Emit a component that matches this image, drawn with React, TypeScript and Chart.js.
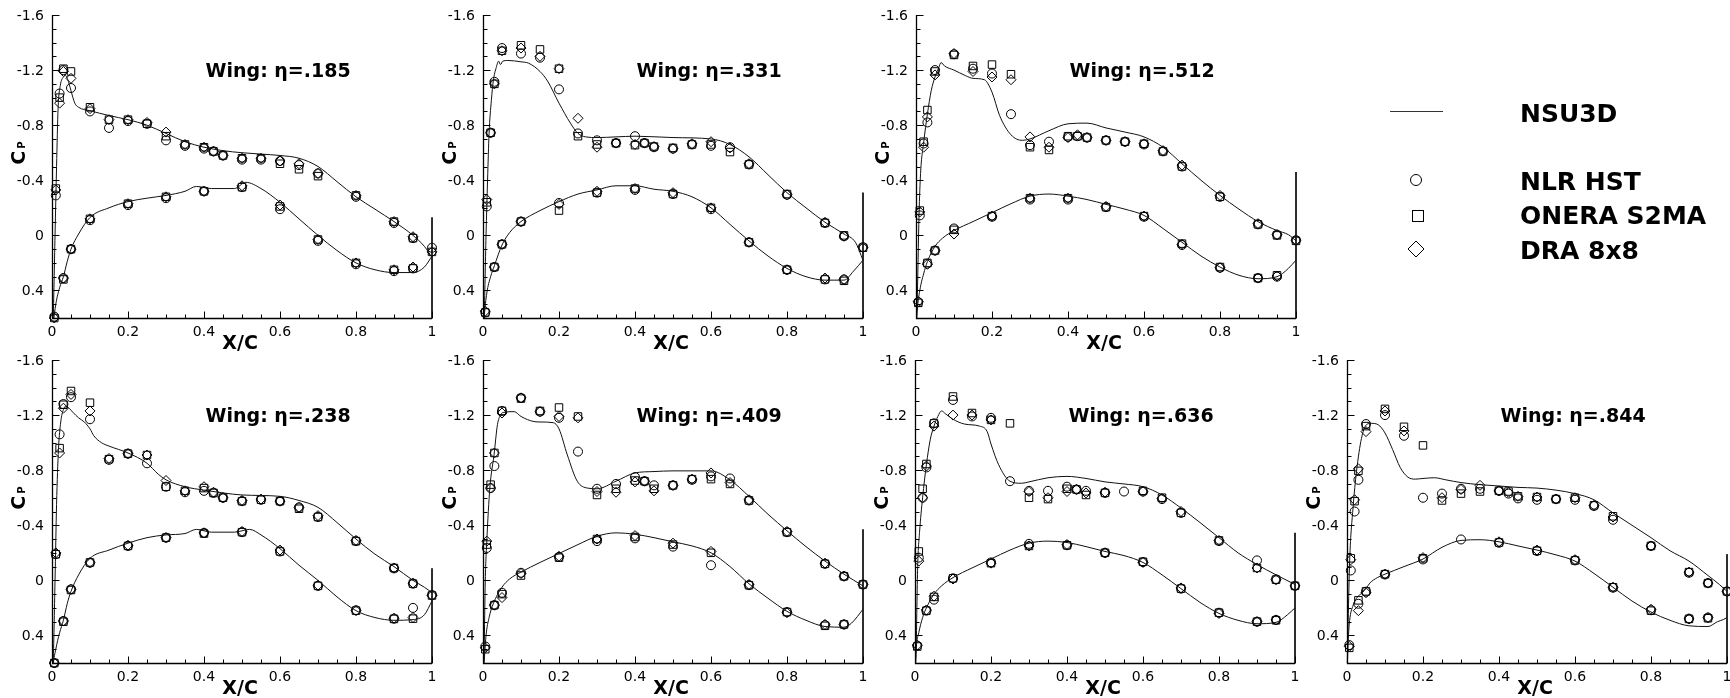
import React, { useEffect, useRef } from 'react';
import { Chart, registerables } from 'chart.js';

Chart.register(...registerables);

// ---------- axis / label text ----------
const yTickValues = [-1.6, -1.2, -0.8, -0.4, 0, 0.4];
const yTickLabels = ['-1.6', '-1.2', '-0.8', '-0.4', '0', '0.4'];
const xTickValues = [0, 0.2, 0.4, 0.6, 0.8, 1];
const xTickLabels = ['0', '0.2', '0.4', '0.6', '0.8', '1'];
const etaLabels = ['.185', '.331', '.512', '.238', '.409', '.636', '.844'];
const legendLabels = ['NSU3D', 'NLR HST', 'ONERA S2MA', 'DRA 8x8'];

// ---------- experimental stations (x/c) ----------
const XU = [0.01, 0.02, 0.03, 0.05, 0.1, 0.15, 0.2, 0.25, 0.3, 0.35, 0.4, 0.425, 0.45, 0.5, 0.55, 0.6, 0.65, 0.7, 0.8, 0.9, 0.95, 1.0];
const XL = [0.006, 0.03, 0.05, 0.1, 0.2, 0.3, 0.4, 0.5, 0.6, 0.7, 0.8, 0.9, 0.95];

type P = [number, number];
type N = number | null;

// ---------- eta = .185 ----------
const nsuUpper185: P[] = [[0, 0.75], [0.003, 0.62], [0.008, 0.0], [0.012, -0.5], [0.016, -0.92], [0.022, -1.09], [0.03, -1.15], [0.036, -1.16], [0.045, -1.1], [0.05, -1.05], [0.06, -0.96], [0.07, -0.93], [0.1, -0.905], [0.15, -0.87], [0.2, -0.84], [0.25, -0.8], [0.3, -0.74], [0.35, -0.68], [0.4, -0.64], [0.45, -0.615], [0.5, -0.6], [0.55, -0.59], [0.6, -0.58], [0.65, -0.56], [0.7, -0.5], [0.75, -0.39], [0.8, -0.28], [0.85, -0.19], [0.9, -0.1], [0.95, 0.0], [0.98, 0.08], [1.0, 0.16]];
const nsuLower185: P[] = [[0, 0.75], [0.003, 0.65], [0.01, 0.5], [0.02, 0.38], [0.03, 0.3], [0.04, 0.19], [0.05, 0.1], [0.07, -0.01], [0.1, -0.13], [0.15, -0.2], [0.2, -0.245], [0.25, -0.27], [0.3, -0.29], [0.35, -0.32], [0.38, -0.355], [0.42, -0.34], [0.48, -0.34], [0.51, -0.385], [0.55, -0.34], [0.6, -0.24], [0.65, -0.12], [0.7, 0.0], [0.75, 0.11], [0.8, 0.2], [0.85, 0.25], [0.9, 0.27], [0.95, 0.27], [0.98, 0.23], [1.0, 0.15]];
const nsuTE185: P[] = [[1, -0.13], [1, 0.7]];
const nlrUpper185: N[] = [-0.29, -1.03, -1.2, -1.07, -0.9, -0.78, -0.83, -0.81, -0.69, -0.65, -0.63, -0.61, -0.58, -0.55, -0.55, -0.54, -0.51, -0.45, -0.28, -0.09, 0.02, 0.09];
const oneraUpper185: N[] = [-0.34, -1.0, -1.21, -1.19, -0.93, -0.84, -0.84, -0.81, -0.72, -0.66, -0.64, -0.61, -0.58, -0.56, -0.56, -0.52, -0.48, -0.43, -0.29, -0.1, 0.02, 0.12];
const draUpper185: N[] = [-0.33, -0.96, -1.19, -1.14, -0.92, -0.84, -0.84, -0.82, -0.75, -0.66, -0.64, -0.61, -0.58, -0.56, -0.56, -0.54, -0.52, -0.45, -0.29, -0.1, 0.01, 0.12];
const nlrLower185: N[] = [0.59, 0.31, 0.1, -0.11, -0.22, -0.27, -0.32, -0.35, -0.19, 0.04, 0.21, 0.26, 0.24];
const oneraLower185: N[] = [0.6, 0.32, 0.1, -0.12, -0.23, -0.28, -0.32, -0.35, -0.21, 0.03, 0.2, 0.25, 0.24];
const draLower185: N[] = [0.6, 0.31, 0.1, -0.12, -0.23, -0.28, -0.32, -0.36, -0.22, 0.03, 0.2, 0.25, 0.23];

// ---------- eta = .331 ----------
const nsuUpper331: P[] = [[0, 0.75], [0.003, 0.6], [0.008, 0.0], [0.012, -0.4], [0.016, -0.74], [0.022, -0.98], [0.027, -1.12], [0.035, -1.22], [0.041, -1.265], [0.046, -1.24], [0.052, -1.265], [0.065, -1.27], [0.1, -1.26], [0.12, -1.25], [0.15, -1.19], [0.17, -1.12], [0.2, -0.96], [0.23, -0.815], [0.25, -0.74], [0.27, -0.715], [0.3, -0.71], [0.35, -0.715], [0.4, -0.72], [0.5, -0.71], [0.6, -0.7], [0.65, -0.66], [0.7, -0.57], [0.75, -0.44], [0.8, -0.31], [0.85, -0.2], [0.9, -0.095], [0.95, -0.01], [0.98, 0.05], [1.0, 0.18]];
const nsuLower331: P[] = [[0, 0.75], [0.003, 0.6], [0.01, 0.42], [0.02, 0.3], [0.03, 0.22], [0.05, 0.07], [0.07, -0.02], [0.1, -0.1], [0.15, -0.18], [0.2, -0.245], [0.25, -0.3], [0.3, -0.33], [0.35, -0.36], [0.4, -0.36], [0.45, -0.335], [0.5, -0.32], [0.55, -0.28], [0.6, -0.2], [0.65, -0.08], [0.7, 0.04], [0.75, 0.15], [0.8, 0.24], [0.85, 0.3], [0.9, 0.325], [0.95, 0.325], [0.975, 0.26], [1.0, 0.18]];
const nsuTE331: P[] = [[1, -0.31], [1, 0.7]];
const nlrUpper331: N[] = [-0.21, -0.745, -1.115, -1.36, -1.32, -1.29, -1.06, -0.74, -0.69, -0.67, -0.72, -0.67, -0.64, -0.63, -0.66, -0.65, -0.64, -0.515, -0.295, -0.09, 0.007, 0.085];
const oneraUpper331: N[] = [-0.24, -0.745, -1.1, -1.34, -1.38, -1.35, -1.21, -0.72, -0.66, -0.67, -0.655, -0.67, -0.645, -0.635, -0.66, -0.66, -0.605, -0.515, -0.3, -0.09, 0.0, 0.09];
const draUpper331: N[] = [-0.26, -0.745, -1.1, -1.34, -1.36, -1.3, -1.21, -0.85, -0.64, -0.67, -0.66, -0.67, -0.645, -0.63, -0.665, -0.68, -0.635, -0.52, -0.295, -0.095, 0.005, 0.09];
const nlrLower331: N[] = [0.56, 0.23, 0.065, -0.1, -0.235, -0.31, -0.33, -0.3, -0.19, 0.05, 0.25, 0.32, 0.32];
const oneraLower331: N[] = [0.56, 0.23, 0.065, -0.1, -0.18, -0.31, -0.34, -0.3, -0.2, 0.05, 0.25, 0.32, 0.33];
const draLower331: N[] = [0.55, 0.23, 0.065, -0.1, -0.225, -0.32, -0.34, -0.31, -0.2, 0.05, 0.25, 0.31, 0.32];

// ---------- eta = .512 ----------
const nsuUpper512: P[] = [[0, 0.7], [0.003, 0.5], [0.008, -0.15], [0.012, -0.45], [0.02, -0.67], [0.03, -0.88], [0.04, -1.05], [0.05, -1.15], [0.06, -1.22], [0.066, -1.255], [0.075, -1.23], [0.1, -1.2], [0.13, -1.16], [0.15, -1.14], [0.18, -1.13], [0.2, -1.04], [0.22, -0.87], [0.25, -0.73], [0.28, -0.69], [0.3, -0.7], [0.35, -0.76], [0.4, -0.81], [0.45, -0.815], [0.5, -0.78], [0.55, -0.75], [0.6, -0.715], [0.65, -0.64], [0.7, -0.52], [0.75, -0.4], [0.8, -0.29], [0.85, -0.19], [0.9, -0.1], [0.95, -0.035], [0.98, -0.005], [1.0, 0.04]];
const nsuLower512: P[] = [[0, 0.7], [0.003, 0.55], [0.01, 0.4], [0.02, 0.28], [0.03, 0.19], [0.05, 0.08], [0.07, 0.02], [0.1, -0.035], [0.15, -0.1], [0.2, -0.165], [0.25, -0.23], [0.3, -0.285], [0.35, -0.3], [0.4, -0.285], [0.45, -0.26], [0.5, -0.225], [0.55, -0.19], [0.6, -0.145], [0.65, -0.05], [0.7, 0.05], [0.75, 0.15], [0.8, 0.23], [0.85, 0.29], [0.9, 0.315], [0.95, 0.3], [0.98, 0.24], [1.0, 0.18]];
const nsuTE512: P[] = [[1, -0.46], [1, 0.7]];
const nlrUpper512: N[] = [-0.145, -0.667, -0.82, -1.2, -1.315, -1.21, -1.175, -0.88, -0.655, -0.68, -0.715, -0.72, -0.71, -0.69, -0.68, -0.66, -0.61, -0.5, -0.28, -0.08, -0.005, 0.035];
const oneraUpper512: N[] = [-0.18, -0.68, -0.91, -1.19, -1.31, -1.23, -1.24, -1.17, -0.64, -0.62, -0.72, -0.72, -0.71, -0.69, -0.68, -0.665, -0.61, -0.5, -0.28, -0.08, 0.0, 0.04];
const draUpper512: N[] = [-0.17, -0.64, -0.86, -1.165, -1.32, -1.19, -1.15, -1.13, -0.715, -0.64, -0.71, -0.73, -0.71, -0.69, -0.68, -0.665, -0.615, -0.51, -0.29, -0.085, -0.005, 0.035];
const nlrLower512: N[] = [0.485, 0.205, 0.11, -0.05, -0.135, -0.26, -0.26, -0.205, -0.135, 0.07, 0.235, 0.31, 0.3];
const oneraLower512: N[] = [0.49, 0.2, 0.11, -0.04, -0.14, -0.27, -0.27, -0.205, -0.14, 0.06, 0.23, 0.31, 0.29];
const draLower512: N[] = [0.48, 0.21, 0.11, -0.01, -0.14, -0.27, -0.27, -0.21, -0.14, 0.065, 0.235, 0.31, 0.295];

// ---------- eta = .238 ----------
const nsuUpper238: P[] = [[0, 0.75], [0.003, 0.62], [0.008, 0.0], [0.012, -0.55], [0.017, -0.95], [0.023, -1.15], [0.03, -1.24], [0.036, -1.265], [0.045, -1.25], [0.055, -1.22], [0.07, -1.18], [0.085, -1.15], [0.1, -1.1], [0.11, -1.05], [0.13, -1.0], [0.15, -0.975], [0.2, -0.925], [0.25, -0.85], [0.28, -0.77], [0.3, -0.73], [0.35, -0.68], [0.4, -0.655], [0.45, -0.635], [0.5, -0.62], [0.6, -0.61], [0.65, -0.58], [0.7, -0.53], [0.75, -0.42], [0.8, -0.3], [0.85, -0.19], [0.9, -0.1], [0.95, 0.0], [0.98, 0.05], [1.0, 0.09]];
const nsuLower238: P[] = [[0, 0.75], [0.003, 0.62], [0.01, 0.5], [0.02, 0.38], [0.03, 0.29], [0.04, 0.17], [0.05, 0.08], [0.07, -0.04], [0.1, -0.16], [0.15, -0.22], [0.2, -0.27], [0.25, -0.31], [0.3, -0.33], [0.35, -0.34], [0.38, -0.37], [0.42, -0.35], [0.48, -0.35], [0.52, -0.37], [0.55, -0.33], [0.6, -0.23], [0.65, -0.11], [0.7, 0.0], [0.75, 0.12], [0.8, 0.22], [0.85, 0.27], [0.9, 0.29], [0.95, 0.285], [0.98, 0.25], [1.0, 0.15]];
const nsuTE238: P[] = [[1, -0.087], [1, 0.7]];
const nlrUpper238: N[] = [-0.19, -1.06, -1.28, -1.33, -1.17, -0.875, -0.92, -0.85, -0.68, -0.64, -0.65, -0.635, -0.6, -0.575, -0.585, -0.575, -0.53, -0.46, -0.285, -0.087, 0.024, 0.106];
const oneraUpper238: N[] = [-0.19, -0.96, -1.275, -1.375, -1.29, -0.88, -0.92, -0.91, -0.68, -0.65, -0.67, -0.635, -0.6, -0.575, -0.585, -0.575, -0.52, -0.46, -0.285, -0.09, 0.024, 0.11];
const draUpper238: N[] = [-0.2, -0.925, -1.25, -1.35, -1.23, -0.885, -0.92, -0.91, -0.725, -0.65, -0.68, -0.64, -0.6, -0.58, -0.59, -0.575, -0.53, -0.47, -0.29, -0.09, 0.02, 0.11];
const nlrLower238: N[] = [0.6, 0.295, 0.065, -0.128, -0.25, -0.31, -0.345, -0.35, -0.21, 0.04, 0.217, 0.278, 0.2];
const oneraLower238: N[] = [0.6, 0.3, 0.07, -0.13, -0.25, -0.31, -0.34, -0.35, -0.21, 0.04, 0.22, 0.28, 0.278];
const draLower238: N[] = [0.6, 0.295, 0.065, -0.13, -0.255, -0.31, -0.345, -0.355, -0.22, 0.035, 0.22, 0.275, 0.27];

// ---------- eta = .409 ----------
const nsuUpper409: P[] = [[0, 0.7], [0.003, 0.5], [0.006, 0.0], [0.01, -0.285], [0.018, -0.67], [0.029, -0.91], [0.038, -1.13], [0.046, -1.2], [0.055, -1.22], [0.082, -1.225], [0.1, -1.19], [0.134, -1.153], [0.15, -1.15], [0.185, -1.145], [0.2, -1.1], [0.222, -0.91], [0.248, -0.72], [0.275, -0.67], [0.3, -0.665], [0.35, -0.72], [0.4, -0.78], [0.45, -0.79], [0.5, -0.795], [0.55, -0.795], [0.6, -0.795], [0.65, -0.73], [0.7, -0.61], [0.75, -0.48], [0.8, -0.36], [0.85, -0.245], [0.9, -0.14], [0.95, -0.045], [1.0, 0.04]];
const nsuLower409: P[] = [[0, 0.7], [0.004, 0.55], [0.008, 0.4], [0.016, 0.27], [0.027, 0.17], [0.05, 0.05], [0.07, -0.01], [0.1, -0.06], [0.15, -0.13], [0.2, -0.195], [0.25, -0.26], [0.3, -0.32], [0.35, -0.345], [0.4, -0.335], [0.45, -0.31], [0.5, -0.28], [0.55, -0.25], [0.6, -0.2], [0.65, -0.1], [0.7, 0.025], [0.75, 0.13], [0.8, 0.225], [0.85, 0.29], [0.9, 0.335], [0.95, 0.34], [0.97, 0.31], [1.0, 0.21]];
const nsuTE409: P[] = [[1, -0.37], [1, 0.7]];
const nlrUpper409: N[] = [-0.235, -0.67, -0.83, -1.23, -1.325, -1.225, -1.18, -0.935, -0.665, -0.7, -0.75, -0.72, -0.69, -0.69, -0.73, -0.755, -0.74, -0.58, -0.35, -0.12, -0.03, 0.03];
const oneraUpper409: N[] = [-0.26, -0.695, -0.925, -1.23, -1.32, -1.23, -1.255, -1.19, -0.62, -0.665, -0.725, -0.72, -0.665, -0.69, -0.735, -0.735, -0.7, -0.58, -0.35, -0.12, -0.03, 0.03];
const draUpper409: N[] = [-0.285, -0.67, -0.925, -1.215, -1.325, -1.225, -1.19, -1.18, -0.645, -0.64, -0.715, -0.72, -0.65, -0.69, -0.735, -0.78, -0.71, -0.585, -0.355, -0.125, -0.03, 0.03];
const nlrLower409: N[] = [0.48, 0.18, 0.09, -0.055, -0.17, -0.285, -0.305, -0.245, -0.11, 0.035, 0.23, 0.325, 0.32];
const oneraLower409: N[] = [0.5, 0.18, 0.1, -0.035, -0.165, -0.3, -0.315, -0.26, -0.2, 0.035, 0.23, 0.33, 0.32];
const draLower409: N[] = [0.49, 0.18, 0.125, -0.05, -0.175, -0.3, -0.325, -0.27, -0.21, 0.03, 0.235, 0.32, 0.32];

// ---------- eta = .636 ----------
const nsuUpper636: P[] = [[0, 0.7], [0.003, 0.5], [0.007, -0.1], [0.012, -0.35], [0.02, -0.6], [0.03, -0.84], [0.04, -1.02], [0.05, -1.12], [0.06, -1.19], [0.07, -1.23], [0.08, -1.21], [0.1, -1.17], [0.13, -1.135], [0.17, -1.12], [0.19, -1.08], [0.2, -0.99], [0.22, -0.84], [0.25, -0.72], [0.28, -0.705], [0.3, -0.715], [0.35, -0.745], [0.4, -0.755], [0.45, -0.74], [0.5, -0.715], [0.55, -0.7], [0.6, -0.68], [0.65, -0.62], [0.7, -0.525], [0.75, -0.42], [0.8, -0.31], [0.85, -0.2], [0.9, -0.115], [0.95, -0.04], [1.0, 0.03]];
const nsuLower636: P[] = [[0, 0.7], [0.003, 0.5], [0.01, 0.38], [0.02, 0.27], [0.03, 0.2], [0.05, 0.1], [0.07, 0.04], [0.1, -0.02], [0.15, -0.09], [0.2, -0.155], [0.25, -0.22], [0.3, -0.27], [0.35, -0.285], [0.4, -0.275], [0.45, -0.245], [0.5, -0.21], [0.55, -0.18], [0.6, -0.13], [0.65, -0.04], [0.7, 0.06], [0.75, 0.16], [0.8, 0.24], [0.85, 0.29], [0.9, 0.315], [0.95, 0.305], [0.98, 0.25], [1.0, 0.2]];
const nsuTE636: P[] = [[1, -0.345], [1, 0.7]];
const nlrUpper636: N[] = [-0.165, -0.6, -0.82, -1.14, -1.31, -1.19, -1.18, -0.72, -0.65, -0.65, -0.68, -0.66, -0.65, -0.635, -0.645, -0.645, -0.59, -0.49, -0.285, -0.145, -0.007, 0.04];
const oneraUpper636: N[] = [-0.21, -0.665, -0.845, -1.14, -1.335, -1.215, -1.165, -1.14, -0.6, -0.59, -0.665, -0.66, -0.62, -0.635, null, -0.65, -0.6, -0.49, -0.29, -0.09, -0.005, 0.04];
const draUpper636: N[] = [-0.14, -0.6, -0.83, -1.12, -1.2, -1.2, -1.165, null, -0.645, -0.6, -0.645, -0.66, -0.635, -0.64, null, -0.645, -0.595, -0.5, -0.29, -0.09, -0.005, 0.04];
const nlrLower636: N[] = [0.475, 0.22, 0.14, -0.015, -0.13, -0.265, -0.255, -0.2, -0.133, 0.06, 0.235, 0.3, 0.287];
const oneraLower636: N[] = [0.48, 0.22, 0.12, -0.015, -0.125, -0.25, -0.255, -0.2, -0.135, 0.06, 0.235, 0.3, 0.29];
const draLower636: N[] = [0.47, 0.215, 0.115, -0.01, -0.125, -0.25, -0.26, -0.2, -0.13, 0.055, 0.24, 0.3, 0.287];

// ---------- eta = .844 ----------
const nsuUpper844: P[] = [[0, 0.7], [0.003, 0.3], [0.007, -0.14], [0.016, -0.53], [0.025, -0.79], [0.038, -1.03], [0.051, -1.13], [0.064, -1.14], [0.082, -1.13], [0.1, -1.07], [0.12, -0.95], [0.14, -0.82], [0.16, -0.75], [0.18, -0.735], [0.2, -0.74], [0.23, -0.745], [0.26, -0.73], [0.3, -0.71], [0.35, -0.695], [0.4, -0.685], [0.45, -0.675], [0.5, -0.67], [0.55, -0.655], [0.6, -0.63], [0.65, -0.585], [0.7, -0.49], [0.75, -0.4], [0.8, -0.31], [0.85, -0.215], [0.9, -0.14], [0.95, -0.035], [0.98, 0.03], [1.0, 0.08]];
const nsuLower844: P[] = [[0, 0.7], [0.003, 0.45], [0.007, 0.29], [0.015, 0.19], [0.025, 0.13], [0.04, 0.09], [0.05, 0.06], [0.06, 0.02], [0.08, -0.02], [0.1, -0.045], [0.15, -0.1], [0.2, -0.155], [0.25, -0.24], [0.3, -0.29], [0.35, -0.295], [0.4, -0.28], [0.45, -0.25], [0.5, -0.22], [0.55, -0.185], [0.6, -0.14], [0.65, -0.05], [0.7, 0.05], [0.75, 0.15], [0.8, 0.23], [0.85, 0.29], [0.9, 0.33], [0.95, 0.335], [0.975, 0.3], [0.99, 0.285], [1.0, 0.27]];
const nsuTE844: P[] = [[1, -0.19], [1, 0.7]];
const nlrUpper844: N[] = [-0.072, -0.5, -0.73, -1.135, -1.2, -1.05, -0.6, -0.63, -0.665, -0.665, -0.65, -0.63, -0.595, -0.585, -0.59, -0.585, -0.54, -0.44, -0.25, -0.055, 0.02, 0.08];
const oneraUpper844: N[] = [-0.16, -0.575, -0.795, -1.12, -1.245, -1.115, -0.98, -0.58, -0.63, -0.645, -0.65, -0.645, -0.61, -0.605, -0.59, -0.6, -0.545, -0.465, -0.25, -0.06, 0.02, 0.08];
const draUpper844: N[] = [-0.15, -0.585, -0.81, -1.08, -1.23, -1.085, null, -0.6, -0.66, -0.69, -0.65, -0.64, -0.61, -0.605, -0.59, -0.6, -0.545, -0.46, -0.25, -0.06, 0.02, 0.08];
const nlrLower844: N[] = [0.47, 0.17, 0.082, -0.043, -0.152, -0.297, -0.273, -0.213, -0.145, 0.053, 0.217, 0.278, 0.27];
const oneraLower844: N[] = [0.49, 0.145, 0.08, -0.045, -0.16, null, -0.275, -0.215, -0.145, 0.05, 0.22, 0.28, 0.275];
const draLower844: N[] = [0.48, 0.22, 0.09, -0.045, -0.165, null, -0.28, -0.22, -0.15, 0.05, 0.21, 0.28, 0.27];

// ---------- table built from the arrays ----------
const panelData = [
  { eta: etaLabels[0], up: nsuUpper185, lo: nsuLower185, te: nsuTE185, nlr: [nlrUpper185, nlrLower185], onera: [oneraUpper185, oneraLower185], dra: [draUpper185, draLower185] },
  { eta: etaLabels[1], up: nsuUpper331, lo: nsuLower331, te: nsuTE331, nlr: [nlrUpper331, nlrLower331], onera: [oneraUpper331, oneraLower331], dra: [draUpper331, draLower331] },
  { eta: etaLabels[2], up: nsuUpper512, lo: nsuLower512, te: nsuTE512, nlr: [nlrUpper512, nlrLower512], onera: [oneraUpper512, oneraLower512], dra: [draUpper512, draLower512] },
  { eta: etaLabels[3], up: nsuUpper238, lo: nsuLower238, te: nsuTE238, nlr: [nlrUpper238, nlrLower238], onera: [oneraUpper238, oneraLower238], dra: [draUpper238, draLower238] },
  { eta: etaLabels[4], up: nsuUpper409, lo: nsuLower409, te: nsuTE409, nlr: [nlrUpper409, nlrLower409], onera: [oneraUpper409, oneraLower409], dra: [draUpper409, draLower409] },
  { eta: etaLabels[5], up: nsuUpper636, lo: nsuLower636, te: nsuTE636, nlr: [nlrUpper636, nlrLower636], onera: [oneraUpper636, oneraLower636], dra: [draUpper636, draLower636] },
  { eta: etaLabels[6], up: nsuUpper844, lo: nsuLower844, te: nsuTE844, nlr: [nlrUpper844, nlrLower844], onera: [oneraUpper844, oneraLower844], dra: [draUpper844, draLower844] },
];

// layout (canvas positions on the page)
const panelPos = [
  { left: 0, top: 0 }, { left: 431, top: 0 }, { left: 864, top: 0 },
  { left: 0, top: 345 }, { left: 431, top: 345 }, { left: 863, top: 345 }, { left: 1295, top: 345 },
];
const CW = 440;
const CH = 355;
const FONT = '"DejaVu Sans", "Liberation Sans", Arial, sans-serif';

const toXY = (pts: P[]) => pts.map(([x, y]) => ({ x, y }));
const toPts = (xs: number[], ys: N[]) =>
  xs.map((x, i) => ({ x, y: ys[i] })).filter((p) => p.y !== null && p.y !== undefined);

const axesPlugin = {
  id: 'cpAxes',
  afterDatasetsDraw(chart: any, _args: any, opts: any) {
    const { ctx, chartArea: a } = chart;
    const xs = chart.scales.x;
    const ys = chart.scales.y;
    ctx.save();
    ctx.strokeStyle = '#000';
    ctx.fillStyle = '#000';
    // axis lines
    ctx.lineWidth = 1.3;
    ctx.beginPath();
    const L = Math.round(a.left) + 0.5;
    const B = Math.round(a.bottom) + 0.5;
    ctx.moveTo(L, a.top);
    ctx.lineTo(L, B);
    ctx.lineTo(a.right, B);
    ctx.stroke();
    // ticks
    ctx.lineWidth = 1;
    ctx.beginPath();
    for (let i = 0; i < 22; i++) {
      const v = -1.6 + i * 0.1;
      const py = Math.round(ys.getPixelForValue(v)) + 0.5;
      const len = i % 4 === 0 ? 7 : 4;
      ctx.moveTo(L, py);
      ctx.lineTo(L + len, py);
    }
    for (let i = 1; i <= 20; i++) {
      const v = i * 0.05;
      const px = Math.round(xs.getPixelForValue(v)) + 0.5;
      const len = i % 4 === 0 ? 7 : 4;
      ctx.moveTo(px, B);
      ctx.lineTo(px, B - len);
    }
    ctx.stroke();
    // tick labels
    ctx.font = `14px ${FONT}`;
    ctx.textAlign = 'right';
    ctx.textBaseline = 'middle';
    yTickValues.forEach((v, i) => {
      ctx.fillText(yTickLabels[i], a.left - 8, ys.getPixelForValue(v) + 1);
    });
    ctx.textAlign = 'center';
    ctx.textBaseline = 'top';
    xTickValues.forEach((v, i) => {
      ctx.fillText(xTickLabels[i], xs.getPixelForValue(v), a.bottom + 7);
    });
    // X/C
    ctx.font = `bold 19px ${FONT}`;
    ctx.textBaseline = 'alphabetic';
    ctx.fillText('X/C', xs.getPixelForValue(0.495), a.bottom + 31);
    // C_P (rotated)
    ctx.save();
    ctx.translate(a.left - 27, a.top + 138);
    ctx.rotate(-Math.PI / 2);
    ctx.textAlign = 'left';
    ctx.font = `bold 19px ${FONT}`;
    const wc = ctx.measureText('C').width;
    ctx.font = `bold 10px ${FONT}`;
    const wp = ctx.measureText('P').width;
    const start = -(wc + 2 + wp) / 2;
    ctx.font = `bold 19px ${FONT}`;
    ctx.fillText('C', start, 0);
    ctx.font = `bold 10px ${FONT}`;
    ctx.fillText('P', start + wc + 2, 0);
    ctx.restore();
    // title
    ctx.font = `bold 19px ${FONT}`;
    ctx.textAlign = 'center';
    ctx.textBaseline = 'alphabetic';
    ctx.fillText(opts.title, xs.getPixelForValue(0.595), ys.getPixelForValue(-1.2) + 7);
    ctx.restore();
  },
};

function Panel({ idx }: { idx: number }) {
  const ref = useRef<HTMLCanvasElement>(null);
  useEffect(() => {
    const d = panelData[idx];
    const lineDs = (pts: P[], smooth = true) => ({
      data: toXY(pts),
      borderColor: '#111',
      borderWidth: 1,
      pointRadius: 0,
      fill: false,
      showLine: true,
      tension: smooth ? 0.4 : 0,
      cubicInterpolationMode: smooth ? 'monotone' : 'default',
      clip: { left: 2, top: 0, right: 2, bottom: 0 },
    });
    const markDs = (xs: number[], ys: N[], style: string, r: number) => ({
      data: toPts(xs, ys),
      showLine: false,
      pointStyle: style,
      pointRadius: r,
      pointBorderWidth: 1,
      pointBorderColor: '#000',
      pointBackgroundColor: 'rgba(0,0,0,0)',
      borderColor: '#000',
      backgroundColor: 'rgba(0,0,0,0)',
      clip: false,
    });
    const chart = new Chart(ref.current as HTMLCanvasElement, {
      type: 'line',
      data: {
        datasets: [
          lineDs(d.up),
          lineDs(d.lo),
          lineDs(d.te, false),
          markDs(XU, d.nlr[0], 'circle', 4.5),
          markDs(XL, d.nlr[1], 'circle', 4.5),
          markDs(XU, d.onera[0], 'rect', 5.3),
          markDs(XL, d.onera[1], 'rect', 5.3),
          markDs(XU, d.dra[0], 'rectRot', 5),
          markDs(XL, d.dra[1], 'rectRot', 5),
        ] as any,
      },
      options: {
        responsive: false,
        animation: false,
        events: [],
        layout: { padding: { left: 52, top: 15, right: CW - 52 - 380, bottom: CH - 15 - 303 } },
        scales: {
          x: { type: 'linear', min: 0, max: 1, display: false },
          y: { type: 'linear', min: -1.6, max: 0.6, reverse: true, display: false },
        },
        plugins: {
          legend: { display: false },
          tooltip: { enabled: false },
          cpAxes: { title: `Wing: η=${d.eta}` },
        } as any,
      },
      plugins: [axesPlugin],
    });
    return () => chart.destroy();
  }, [idx]);
  const pos = panelPos[idx];
  return (
    <canvas
      ref={ref}
      width={CW}
      height={CH}
      style={{ position: 'absolute', left: pos.left, top: pos.top, width: CW, height: CH }}
    />
  );
}

function Legend() {
  const ref = useRef<HTMLCanvasElement>(null);
  useEffect(() => {
    const c = ref.current as HTMLCanvasElement;
    const ctx = c.getContext('2d') as CanvasRenderingContext2D;
    ctx.clearRect(0, 0, c.width, c.height);
    ctx.strokeStyle = '#000';
    ctx.fillStyle = '#000';
    // line symbol
    ctx.lineWidth = 1;
    ctx.strokeStyle = '#333';
    ctx.beginPath();
    ctx.moveTo(90, 51.5);
    ctx.lineTo(143, 51.5);
    ctx.stroke();
    ctx.strokeStyle = '#000';
    // circle
    ctx.beginPath();
    ctx.arc(116, 120, 5.5, 0, Math.PI * 2);
    ctx.stroke();
    // square
    ctx.strokeRect(112.5, 150.5, 11, 11);
    // diamond
    ctx.beginPath();
    ctx.moveTo(108, 189);
    ctx.lineTo(116, 181);
    ctx.lineTo(124, 189);
    ctx.lineTo(116, 197);
    ctx.closePath();
    ctx.stroke();
    ctx.font = `bold 25px ${FONT}`;
    ctx.textAlign = 'left';
    ctx.textBaseline = 'alphabetic';
    ctx.fillText(legendLabels[0], 220, 62);
    ctx.fillText(legendLabels[1], 220, 130);
    ctx.fillText(legendLabels[2], 220, 164);
    ctx.fillText(legendLabels[3], 220, 199);
  }, []);
  return (
    <canvas ref={ref} width={430} height={220} style={{ position: 'absolute', left: 1300, top: 60, width: 430, height: 220 }} />
  );
}

export default function App() {
  return (
    <div style={{ position: 'absolute', left: 0, top: 0, width: 1730, height: 698, overflow: 'hidden', background: '#fff' }}>
      {panelData.map((_, i) => (
        <Panel key={i} idx={i} />
      ))}
      <Legend />
    </div>
  );
}
